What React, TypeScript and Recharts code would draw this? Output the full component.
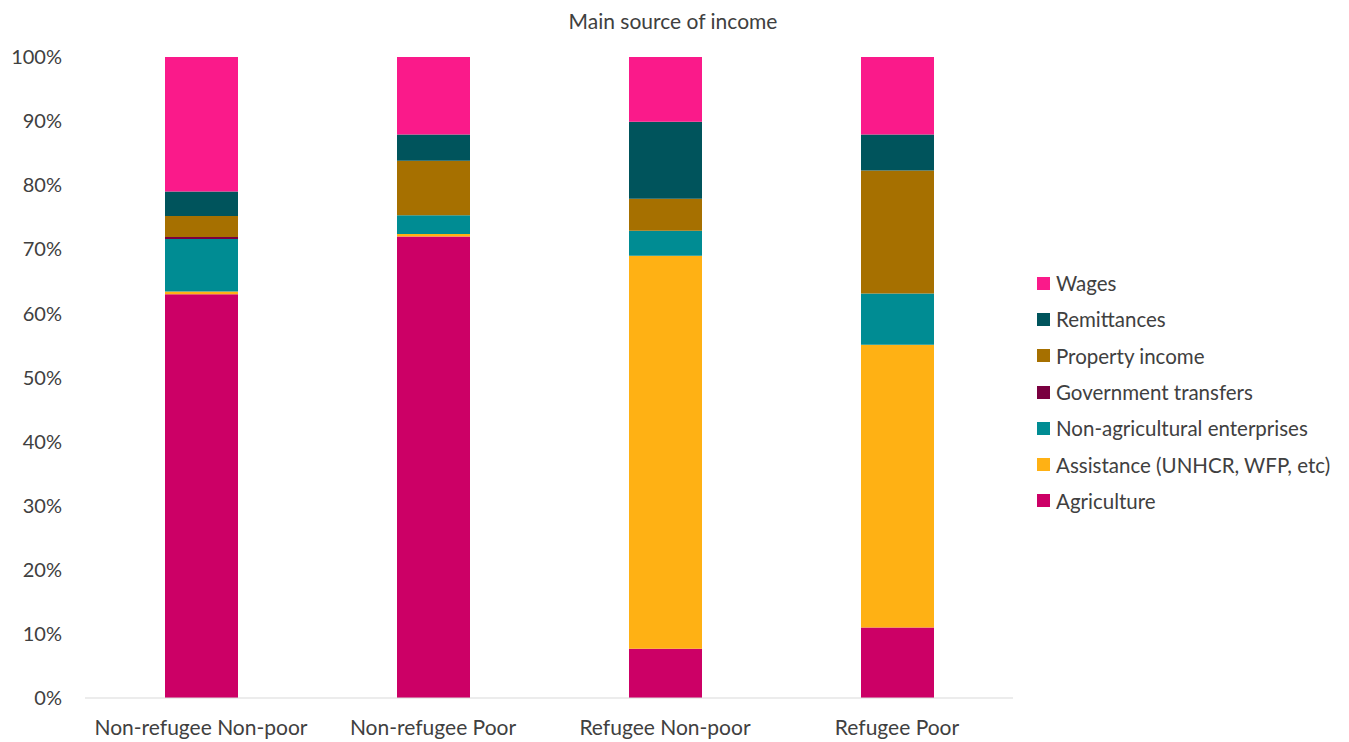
import React from "react";
import { BarChart, Bar, XAxis, YAxis, Legend } from "recharts";

const categories = ["Non-refugee Non-poor", "Non-refugee Poor", "Refugee Non-poor", "Refugee Poor"];
const agriculture = [63.0, 72.0, 7.7, 11.0];
const assistance = [0.4, 0.4, 61.3, 44.1];
const nonAgricultural = [8.2, 2.9, 3.9, 8.0];
const government = [0.3, 0.0, 0.0, 0.0];
const property = [3.3, 8.5, 5.0, 19.2];
const remittances = [3.8, 4.1, 12.0, 5.6];
const wages = [21.0, 12.1, 10.1, 12.1];
const yTicks = [0, 10, 20, 30, 40, 50, 60, 70, 80, 90, 100];

const series = [
  { key: "agriculture", name: "Agriculture", color: "#CC0066", values: agriculture },
  { key: "assistance", name: "Assistance (UNHCR, WFP, etc)", color: "#FFB114", values: assistance },
  { key: "nonag", name: "Non-agricultural enterprises", color: "#008C93", values: nonAgricultural },
  { key: "gov", name: "Government transfers", color: "#7A0040", values: government },
  { key: "property", name: "Property income", color: "#A67000", values: property },
  { key: "remit", name: "Remittances", color: "#00545C", values: remittances },
  { key: "wages", name: "Wages", color: "#FA1A8A", values: wages },
];

const data = categories.map((c, i) => {
  const row: Record<string, any> = { category: c };
  series.forEach((s) => (row[s.key] = s.values[i]));
  return row;
});

const FONT = "Lato, 'Noto Sans', sans-serif";
const TEXT = "#404040";

const LegendContent = () => (
  <div style={{ fontFamily: FONT, fontSize: 20.5, color: TEXT }}>
    {[...series].reverse().map((s) => (
      <div key={s.key} style={{ display: "flex", alignItems: "center", height: 36.3 }}>
        <div style={{ width: 13, height: 13, background: s.color, marginRight: 6 }} />
        <span style={{ whiteSpace: "nowrap" }}>{s.name}</span>
      </div>
    ))}
  </div>
);

export default function App() {
  return (
    <div style={{ position: "relative", width: 1333, height: 733 }}>
      <div
        style={{
          position: "absolute",
          left: 0,
          top: 0,
          width: 1330,
          textAlign: "center",
          fontFamily: FONT,
          fontSize: 21,
          color: TEXT,
          lineHeight: "25px",
        }}
      >
        Main source of income
      </div>
      <BarChart
        width={1333}
        height={733}
        data={data}
        margin={{ top: 49, right: 328, bottom: 0, left: 0 }}
        barSize={73}
      >
        <XAxis
          dataKey="category"
          height={43}
          tickLine={false}
          tickSize={0}
          tickMargin={22}
          axisLine={{ stroke: "#D9D9D9" }}
          tick={{ fill: TEXT, fontSize: 21, fontFamily: FONT }}
        />
        <YAxis
          width={77}
          domain={[0, 100]}
          ticks={yTicks}
          tickFormatter={(v) => `${v}%`}
          axisLine={false}
          tickLine={false}
          tickSize={0}
          tickMargin={23}
          tick={{ fill: TEXT, fontSize: 20, fontFamily: FONT }}
        />
        <Legend
          layout="vertical"
          align="center"
          verticalAlign="middle"
          content={<LegendContent />}
          wrapperStyle={{ position: "absolute", left: 1029, top: 257, width: 304, height: 260 }}
        />
        {series.map((s) => (
          <Bar
            key={s.key}
            dataKey={s.key}
            name={s.name}
            stackId="a"
            fill={s.color}
            isAnimationActive={false}
          />
        ))}
      </BarChart>
    </div>
  );
}
